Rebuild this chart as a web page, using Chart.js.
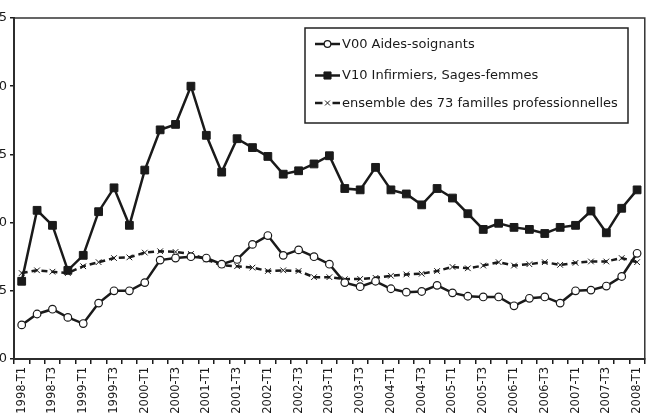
<!DOCTYPE html>
<html>
<head>
<meta charset="utf-8">
<script src="https://cdn.jsdelivr.net/npm/chart.js@4/dist/chart.umd.min.js"></script>
<style>
  html, body { margin: 0; padding: 0; background: #fff; }
  #wrap { position: relative; width: 654px; height: 417px; overflow: hidden; }
  #chart { position: absolute; left: -40px; top: 0; }
</style>
</head>
<body>
<div id="wrap"><canvas id="chart" width="694" height="417"></canvas></div>
<script>
// --- Data ---
const quarters = [
  '1998-T1', '1998-T2', '1998-T3', '1998-T4',
  '1999-T1', '1999-T2', '1999-T3', '1999-T4',
  '2000-T1', '2000-T2', '2000-T3', '2000-T4',
  '2001-T1', '2001-T2', '2001-T3', '2001-T4',
  '2002-T1', '2002-T2', '2002-T3', '2002-T4',
  '2003-T1', '2003-T2', '2003-T3', '2003-T4',
  '2004-T1', '2004-T2', '2004-T3', '2004-T4',
  '2005-T1', '2005-T2', '2005-T3', '2005-T4',
  '2006-T1', '2006-T2', '2006-T3', '2006-T4',
  '2007-T1', '2007-T2', '2007-T3', '2007-T4',
  '2008-T1'
];
const aidesSoignants = [
  2.5, 3.3, 3.65, 3.05, 2.6, 4.1, 5.0, 5.0, 5.6, 7.25, 7.4, 7.5, 7.4, 6.95,
  7.3, 8.4, 9.05, 7.6, 8.0, 7.5, 6.95, 5.6, 5.3, 5.7, 5.15, 4.9, 4.95, 5.4,
  4.85, 4.6, 4.55, 4.55, 3.9, 4.45, 4.55, 4.1, 5.0, 5.05, 5.35, 6.05, 7.75
];
const infirmiers = [
  5.7, 10.9, 9.8, 6.5, 7.6, 10.8, 12.55, 9.8, 13.85, 16.8, 17.2, 20.0, 16.4, 13.7,
  16.15, 15.5, 14.85, 13.55, 13.8, 14.3, 14.9, 12.5, 12.4, 14.05, 12.4, 12.1, 11.3, 12.5,
  11.8, 10.65, 9.5, 9.95, 9.65, 9.5, 9.2, 9.65, 9.8, 10.85, 9.25, 11.05, 12.4
];
const ensemble = [
  6.3, 6.5, 6.4, 6.3, 6.8, 7.1, 7.4, 7.45, 7.8, 7.9, 7.85, 7.7, 7.3, 6.87,
  6.8, 6.7, 6.45, 6.5, 6.45, 6.0, 6.0, 5.85, 5.87, 5.95, 6.1, 6.2, 6.25, 6.45,
  6.75, 6.65, 6.85, 7.1, 6.85, 6.95, 7.1, 6.9, 7.05, 7.15, 7.15, 7.4, 7.1
];
const seriesNames = [
  'V00 Aides-soignants',
  'V10 Infirmiers, Sages-femmes',
  'ensemble des 73 familles professionnelles'
];
const yTicks = [0, 5, 10, 15, 20, 25];

const ink = '#1a1a1a';
Chart.defaults.font.family = 'DejaVu Sans';
Chart.defaults.color = ink;

// box around the plot (top and right edges)
const frame = {
  id: 'frame',
  afterDatasetsDraw(chart) {
    const a = chart.chartArea, ctx = chart.ctx;
    ctx.save();
    ctx.strokeStyle = '#333';
    ctx.lineWidth = 1.5;
    ctx.strokeRect(a.left, a.top, a.right - a.left, a.bottom - a.top);
    ctx.restore();
  }
};

// legend drawn in a box inside the plot
const boxLegend = {
  id: 'boxLegend',
  afterDraw(chart, args, opts) {
    const ctx = chart.ctx;
    ctx.save();
    ctx.fillStyle = '#fff';
    ctx.fillRect(opts.x, opts.y, opts.w, opts.h);
    ctx.strokeStyle = '#222';
    ctx.lineWidth = 1.5;
    ctx.strokeRect(opts.x, opts.y, opts.w, opts.h);
    chart.data.datasets.forEach((ds, i) => {
      const cy = opts.rows[i];
      const x0 = opts.x + 10, x1 = opts.x + 35, cx = (x0 + x1) / 2;
      ctx.strokeStyle = ds.borderColor;
      ctx.lineWidth = ds.borderWidth;
      ctx.beginPath();
      if (ds.borderDash) {
        // dashed series: one dash each side of the marker
        ctx.moveTo(x0, cy); ctx.lineTo(cx - 5, cy);
        ctx.moveTo(cx + 5, cy); ctx.lineTo(x1, cy);
      } else {
        ctx.moveTo(x0, cy); ctx.lineTo(x1, cy);
      }
      ctx.stroke();
      ctx.fillStyle = ds.pointBackgroundColor;
      ctx.strokeStyle = ds.pointBorderColor;
      ctx.lineWidth = ds.pointBorderWidth;
      Chart.helpers.drawPoint(ctx, {
        pointStyle: ds.pointStyle, radius: ds.pointRadius - 0.5, rotation: 0, borderWidth: ds.pointBorderWidth
      }, cx, cy);
      ctx.fillStyle = ink;
      ctx.font = '13px "DejaVu Sans"';
      ctx.textBaseline = 'middle';
      ctx.fillText(ds.label, x1 + 2, cy + 0.5);
    });
    ctx.restore();
  }
};

const ctx = document.querySelector('#chart').getContext('2d');
new Chart(ctx, {
  type: 'line',
  data: {
    labels: quarters,
    datasets: [
      {
        label: seriesNames[0],
        data: aidesSoignants,
        borderColor: ink,
        borderWidth: 2.5,
        pointStyle: 'circle',
        pointRadius: 3.8,
        pointBackgroundColor: '#fff',
        pointBorderColor: ink,
        pointBorderWidth: 1.2,
        tension: 0
      },
      {
        label: seriesNames[1],
        data: infirmiers,
        borderColor: ink,
        borderWidth: 2.5,
        pointStyle: 'rect',
        pointRadius: 5.5,
        pointBackgroundColor: ink,
        pointBorderColor: ink,
        pointBorderWidth: 1,
        tension: 0
      },
      {
        label: seriesNames[2],
        data: ensemble,
        borderColor: ink,
        borderWidth: 2.5,
        borderDash: [6, 4],
        pointStyle: 'crossRot',
        pointRadius: 4,
        pointBackgroundColor: ink,
        pointBorderColor: ink,
        pointBorderWidth: 1,
        tension: 0
      }
    ]
  },
  options: {
    responsive: false,
    animation: false,
    layout: { padding: { top: 18, right: 9, left: 0, bottom: 0 } },
    plugins: {
      legend: { display: false },
      tooltip: { enabled: false },
      boxLegend: { x: 345, y: 28, w: 323, h: 95, rows: [44, 75.5, 103] }
    },
    scales: {
      x: {
        type: 'category',
        offset: true,
        grid: { drawOnChartArea: false, offset: true, tickLength: 5, color: ink, lineWidth: 1.5 },
        border: { color: ink, width: 2 },
        ticks: {
          autoSkip: false, maxRotation: 90, minRotation: 90, padding: 3,
          font: { size: 11.5 },
          callback: function (val, index) {
            return index % 2 === 0 ? this.getLabelForValue(val) : '';
          }
        },
        afterFit(scale) { scale.height = 58; }
      },
      y: {
        min: yTicks[0],
        max: yTicks[yTicks.length - 1],
        afterBuildTicks(scale) { scale.ticks = yTicks.map(v => ({ value: v })); },
        grid: { drawOnChartArea: false, tickLength: 4, color: ink, lineWidth: 1.5 },
        border: { color: ink, width: 2 },
        ticks: { padding: 3, font: { size: 13 } },
        afterFit(scale) { scale.width = 54; }
      }
    }
  },
  plugins: [frame, boxLegend]
});
</script>
</body>
</html>
